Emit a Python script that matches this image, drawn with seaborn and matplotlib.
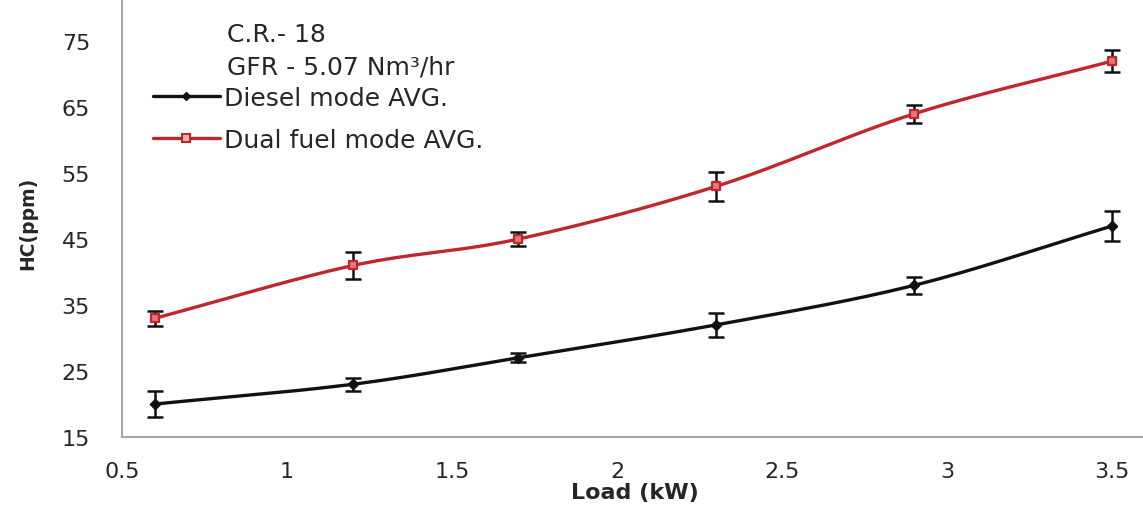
import numpy as np
import pandas as pd
import matplotlib
matplotlib.use("Agg")
import matplotlib.pyplot as plt
import seaborn as sns
from matplotlib.lines import Line2D

# Engine load (kW) and HC emissions (ppm)
load_kw = [0.6, 1.2, 1.7, 2.3, 2.9, 3.5]
diesel_hc = [20, 23, 27, 32, 38, 47]
diesel_err = [2.0, 1.0, 0.7, 1.8, 1.3, 2.3]
dual_hc = [33, 41, 45, 53, 64, 72]
dual_err = [1.1, 2.0, 1.1, 2.2, 1.4, 1.6]

series_labels = ["Diesel mode AVG.", "Dual fuel mode AVG."]
header_lines = ["C.R.- 18", "GFR - 5.07 Nm³/hr"]

x_ticks = [0.5, 1, 1.5, 2, 2.5, 3, 3.5]
x_tick_labels = ["0.5", "1", "1.5", "2", "2.5", "3", "3.5"]
y_ticks = [15, 25, 35, 45, 55, 65, 75]

sns.set_theme(style="white")
plt.rcParams["font.family"] = ["DejaVu Sans"]

RED = "#C0262B"
BLACK = "#111111"
TEXT = "#262626"


def smooth(xs, ys, n=40):
    """Catmull-Rom style smoothing between consecutive points."""
    xs = np.asarray(xs, float)
    ys = np.asarray(ys, float)
    px = np.concatenate([[2 * xs[0] - xs[1]], xs, [2 * xs[-1] - xs[-2]]])
    py = np.concatenate([[2 * ys[0] - ys[1]], ys, [2 * ys[-1] - ys[-2]]])
    out_x, out_y = [], []
    t = np.linspace(0, 1, n, endpoint=False)
    for i in range(1, len(px) - 2):
        for arr, out in ((px, out_x), (py, out_y)):
            p0, p1, p2, p3 = arr[i - 1], arr[i], arr[i + 1], arr[i + 2]
            out.extend(0.5 * ((2 * p1) + (-p0 + p2) * t
                              + (2 * p0 - 5 * p1 + 4 * p2 - p3) * t ** 2
                              + (-p0 + 3 * p1 - 3 * p2 + p3) * t ** 3))
    out_x.append(xs[-1])
    out_y.append(ys[-1])
    return np.array(out_x), np.array(out_y)


fig = plt.figure(figsize=(11.43, 5.06), dpi=100)
ax = fig.add_axes([0.1067, 0.1344, 0.8925, 0.8656])

styles = [
    dict(color=BLACK, marker="D", s=22, face=BLACK),
    dict(color=RED, marker="s", s=40, face="#E27878"),
]
for ys, errs, st in zip((diesel_hc, dual_hc), (diesel_err, dual_err), styles):
    sx, sy = smooth(load_kw, ys)
    curve = pd.DataFrame({"x": sx, "y": sy})
    sns.lineplot(data=curve, x="x", y="y", ax=ax, color=st["color"], lw=2.4,
                 sort=False, estimator=None)
    ax.errorbar(load_kw, ys, yerr=errs, fmt="none", ecolor=BLACK,
                elinewidth=1.8, capsize=5.5, capthick=1.8, zorder=3)
    pts = pd.DataFrame({"x": load_kw, "y": ys})
    sns.scatterplot(data=pts, x="x", y="y", ax=ax, marker=st["marker"],
                    s=st["s"], color=st["face"], edgecolor=st["color"],
                    linewidth=1.6, zorder=4)

ax.set_xlim(0.5, 3.59)
ax.set_ylim(15, 81.4)
ax.set_xticks(x_ticks)
ax.set_xticklabels(x_tick_labels)
ax.set_yticks(y_ticks)
ax.tick_params(axis="both", which="major", length=0, labelsize=16,
               labelcolor=TEXT)
ax.tick_params(axis="x", which="major", pad=17)
ax.tick_params(axis="y", which="major", pad=23)
ax.set_xlabel("")
ax.set_ylabel("")

for side in ("top", "right"):
    ax.spines[side].set_visible(False)
for side in ("left", "bottom"):
    ax.spines[side].set_color("#A6A6A6")
    ax.spines[side].set_linewidth(1.5)

# Axis titles
ax.text(0.503, -0.102, "Load (kW)", transform=ax.transAxes, ha="center",
        va="top", fontsize=16, fontweight="bold", color=TEXT)
ax.text(-0.092, 0.49, "HC(ppm)", transform=ax.transAxes, ha="center",
        va="center", rotation=90, fontsize=13.5, fontweight="bold", color=TEXT)

# Test conditions written above the legend
ax.text(0.103, 0.920, header_lines[0], transform=ax.transAxes, ha="left",
        va="center", fontsize=18, color=TEXT)
ax.text(0.103, 0.847, header_lines[1], transform=ax.transAxes, ha="left",
        va="center", fontsize=18, color=TEXT)

handles = [
    Line2D([], [], color=BLACK, lw=2.4, marker="D", markersize=4),
    Line2D([], [], color=RED, lw=2.4, marker="s", markersize=5.5,
           markerfacecolor="#F2B5B5", markeredgecolor=RED, markeredgewidth=1.5),
]
leg = ax.legend(handles, series_labels, loc="center left",
                bbox_to_anchor=(0.030, 0.7266), frameon=False, fontsize=18,
                handlelength=2.7, handletextpad=0.15, labelspacing=0.72,
                borderpad=0, borderaxespad=0)
for txt in leg.get_texts():
    txt.set_color(TEXT)

fig.savefig("out.png", dpi=100)
